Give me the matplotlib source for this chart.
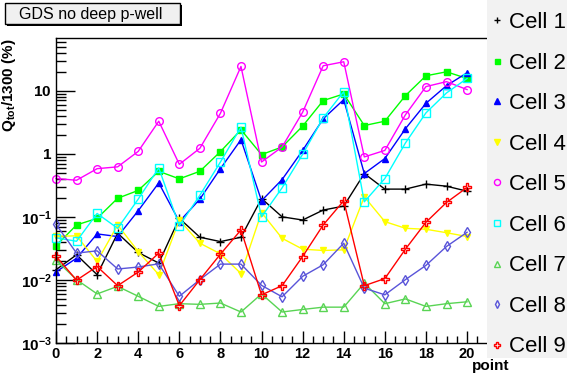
import math
import matplotlib
matplotlib.use("Agg")
import matplotlib.pyplot as plt
import matplotlib.ticker as mticker
from matplotlib.lines import Line2D
from matplotlib.patches import Rectangle

plt.rcParams['font.family'] = ['Liberation Sans', 'DejaVu Sans']
plt.rcParams['mathtext.fontset'] = 'custom'
plt.rcParams['mathtext.rm'] = 'Liberation Sans:bold'
plt.rcParams['mathtext.bf'] = 'Liberation Sans:bold'
plt.rcParams['mathtext.it'] = 'Liberation Sans:bold'

points = list(range(21))
cell_names = ["Cell 1", "Cell 2", "Cell 3", "Cell 4", "Cell 5",
              "Cell 6", "Cell 7", "Cell 8", "Cell 9"]

cell1 = [0.0145, 0.025, 0.0121, 0.055, 0.0272, 0.0185, 0.0946, 0.0475, 0.0405, 0.0475,
         0.195, 0.10, 0.089, 0.128, 0.148, 0.485, 0.275, 0.275, 0.33, 0.306, 0.255]
cell2 = [0.0348, 0.0743, 0.0946, 0.197, 0.262, 0.527, 0.40, 0.527, 1.08, 2.40,
         0.97, 1.28, 2.74, 6.96, 8.87, 2.80, 3.28, 8.34, 17.2, 19.9, 15.6]
cell3 = [0.0134, 0.0221, 0.0536, 0.0487, 0.125, 0.345, 0.084, 0.191, 0.58, 1.67,
         0.18, 0.39, 1.13, 3.58, 7.21, 0.485, 0.84, 2.49, 6.3, 12.0, 19.2]
cell4 = [0.049, 0.050, 0.0196, 0.0743, 0.0282, 0.0121, 0.089, 0.0382, 0.0259, 0.0126,
         0.117, 0.0457, 0.0307, 0.0293, 0.030, 0.208, 0.084, 0.0658, 0.0635, 0.056, 0.0487]
cell5 = [0.405, 0.38, 0.58, 0.62, 1.09, 3.28, 0.68, 1.22, 4.38, 24.2,
         0.74, 1.28, 4.55, 24.8, 28.7, 0.89, 1.13, 4.14, 11.6, 13.9, 10.4]
cell6 = [0.0465, 0.0410, 0.113, 0.0658, 0.191, 0.597, 0.0716, 0.22, 0.74, 2.64,
         0.10, 0.288, 0.98, 3.7, 9.64, 0.173, 0.405, 1.48, 4.45, 9.2, 15.6]
cell7 = [0.0205, 0.0101, 0.0060, 0.0079, 0.0055, 0.0038, 0.0042, 0.0041, 0.0043, 0.0031,
         0.0060, 0.0031, 0.0034, 0.0037, 0.0037, 0.0089, 0.0042, 0.0050, 0.0038, 0.0042, 0.0045]
cell8 = [0.076, 0.0266, 0.0289, 0.0149, 0.016, 0.018, 0.0055, 0.0101, 0.0178, 0.0178,
         0.0082, 0.0054, 0.0114, 0.0174, 0.0382, 0.0074, 0.0058, 0.0101, 0.017, 0.0339, 0.057]
cell9 = [0.0237, 0.0099, 0.0163, 0.0081, 0.0133, 0.0266, 0.0039, 0.0101, 0.0256, 0.062,
         0.0058, 0.0081, 0.0235, 0.0743, 0.18, 0.0081, 0.0105, 0.0307, 0.082, 0.169, 0.292]

series = [cell1, cell2, cell3, cell4, cell5, cell6, cell7, cell8, cell9]
colors = ['#000000', '#00ff00', '#0000ff', '#ffff00', '#ff00ff',
          '#00ffff', '#59d454', '#5954d9', '#ff0000']
markers = ['+', 's', '^', 'v', 'o', 's', '^', 'd', 'P']
filled = [True, True, True, True, False, False, False, False, False]
msizes = [6, 4.5, 5, 5, 5.5, 5.5, 5.5, 5, 6]

W, H = 567, 381
fig = plt.figure(figsize=(W / 100, H / 100), dpi=100)
fig.patch.set_facecolor('white')

ax_l, ax_r, ax_t, ax_b = 56, 487, 38.3, 343
ax = fig.add_axes([ax_l / W, 1 - ax_b / H, (ax_r - ax_l) / W, (ax_b - ax_t) / H])

handles = []
for vals, c, m, f, ms, name in zip(series, colors, markers, filled, msizes, cell_names):
    ax.plot(points, vals, color=c, lw=1.0, marker=m, markersize=ms,
            markerfacecolor=(c if f else 'none'), markeredgecolor=c,
            markeredgewidth=1.0, clip_on=False, label=name)
    handles.append(Line2D([], [], linestyle='none', marker=m, markersize=ms * 0.8,
                          markerfacecolor=(c if f else 'none'), markeredgecolor=c,
                          markeredgewidth=1.0))

ax.set_yscale('log')
ax.set_xlim(0, 20.97)
ax.set_ylim(1e-3, 67.6)

ax.spines['right'].set_visible(False)
for s in ['left', 'bottom', 'top']:
    ax.spines[s].set_linewidth(1.0)
    ax.spines[s].set_color('#000000')

ax.xaxis.set_major_locator(mticker.MultipleLocator(2))
ax.xaxis.set_minor_locator(mticker.MultipleLocator(0.5))
ax.yaxis.set_major_locator(mticker.LogLocator(base=10, numticks=10))
ax.yaxis.set_minor_locator(mticker.LogLocator(base=10, subs=range(2, 10), numticks=20))
ax.yaxis.set_minor_formatter(mticker.NullFormatter())


def yfmt(v, pos):
    e = int(round(math.log10(v)))
    if e == 0:
        return r'$\mathbf{1}$'
    if e == 1:
        return r'$\mathbf{10}$'
    return r'$\mathbf{10^{%d}}$' % e


ax.yaxis.set_major_formatter(mticker.FuncFormatter(yfmt))

ax.tick_params(axis='x', which='major', direction='in', length=9, width=1, pad=3,
               labelsize=10.5, top=False)
ax.tick_params(axis='x', which='minor', direction='in', length=5, width=1, top=False)
ax.tick_params(axis='y', which='major', direction='in', length=14, width=1, pad=3,
               labelsize=11, right=False)
ax.tick_params(axis='y', which='minor', direction='in', length=7, width=1, right=False)
for lab in ax.get_xticklabels():
    lab.set_fontweight('bold')

ax.set_ylabel(r'Q$_{\mathregular{tot}}$/1300 (%)', fontsize=11, fontweight='bold', loc='top')
ax.yaxis.set_label_coords(-0.088, 1.0)
ax.set_xlabel('point', fontsize=11, fontweight='bold', loc='right')
ax.xaxis.set_label_coords((509 - ax_l) / (ax_r - ax_l), (ax_b - 366) / (ax_b - ax_t))
ax.xaxis.label.set_va('center')

# legend background
fig.patches.append(Rectangle((487 / W, 1 - 358 / H), 80 / W, 358 / H,
                             transform=fig.transFigure, facecolor='#f2f2f2',
                             edgecolor='none', zorder=3))
leg = fig.legend(handles, cell_names, loc='upper left',
                 bbox_to_anchor=(491 / W, 1 - 12 / H), frameon=False,
                 fontsize=16, handlelength=0.5, handletextpad=0.3,
                 labelspacing=0.88, borderpad=0, borderaxespad=0)
leg.set_zorder(4)

# title box with shadow
fig.patches.append(Rectangle((7 / W, 1 - 26 / H), 175 / W, 21 / H,
                             transform=fig.transFigure, facecolor='#000000',
                             edgecolor='none', zorder=3))
fig.patches.append(Rectangle((5 / W, 1 - 24 / H), 175 / W, 21 / H,
                             transform=fig.transFigure, facecolor='#f0f0f0',
                             edgecolor='#000000', linewidth=1.0, zorder=3))
fig.text(91 / W, 1 - 14 / H, 'GDS no deep p-well', ha='center', va='center',
         fontsize=11.5, zorder=5)

fig.savefig('out.png', dpi=100)
